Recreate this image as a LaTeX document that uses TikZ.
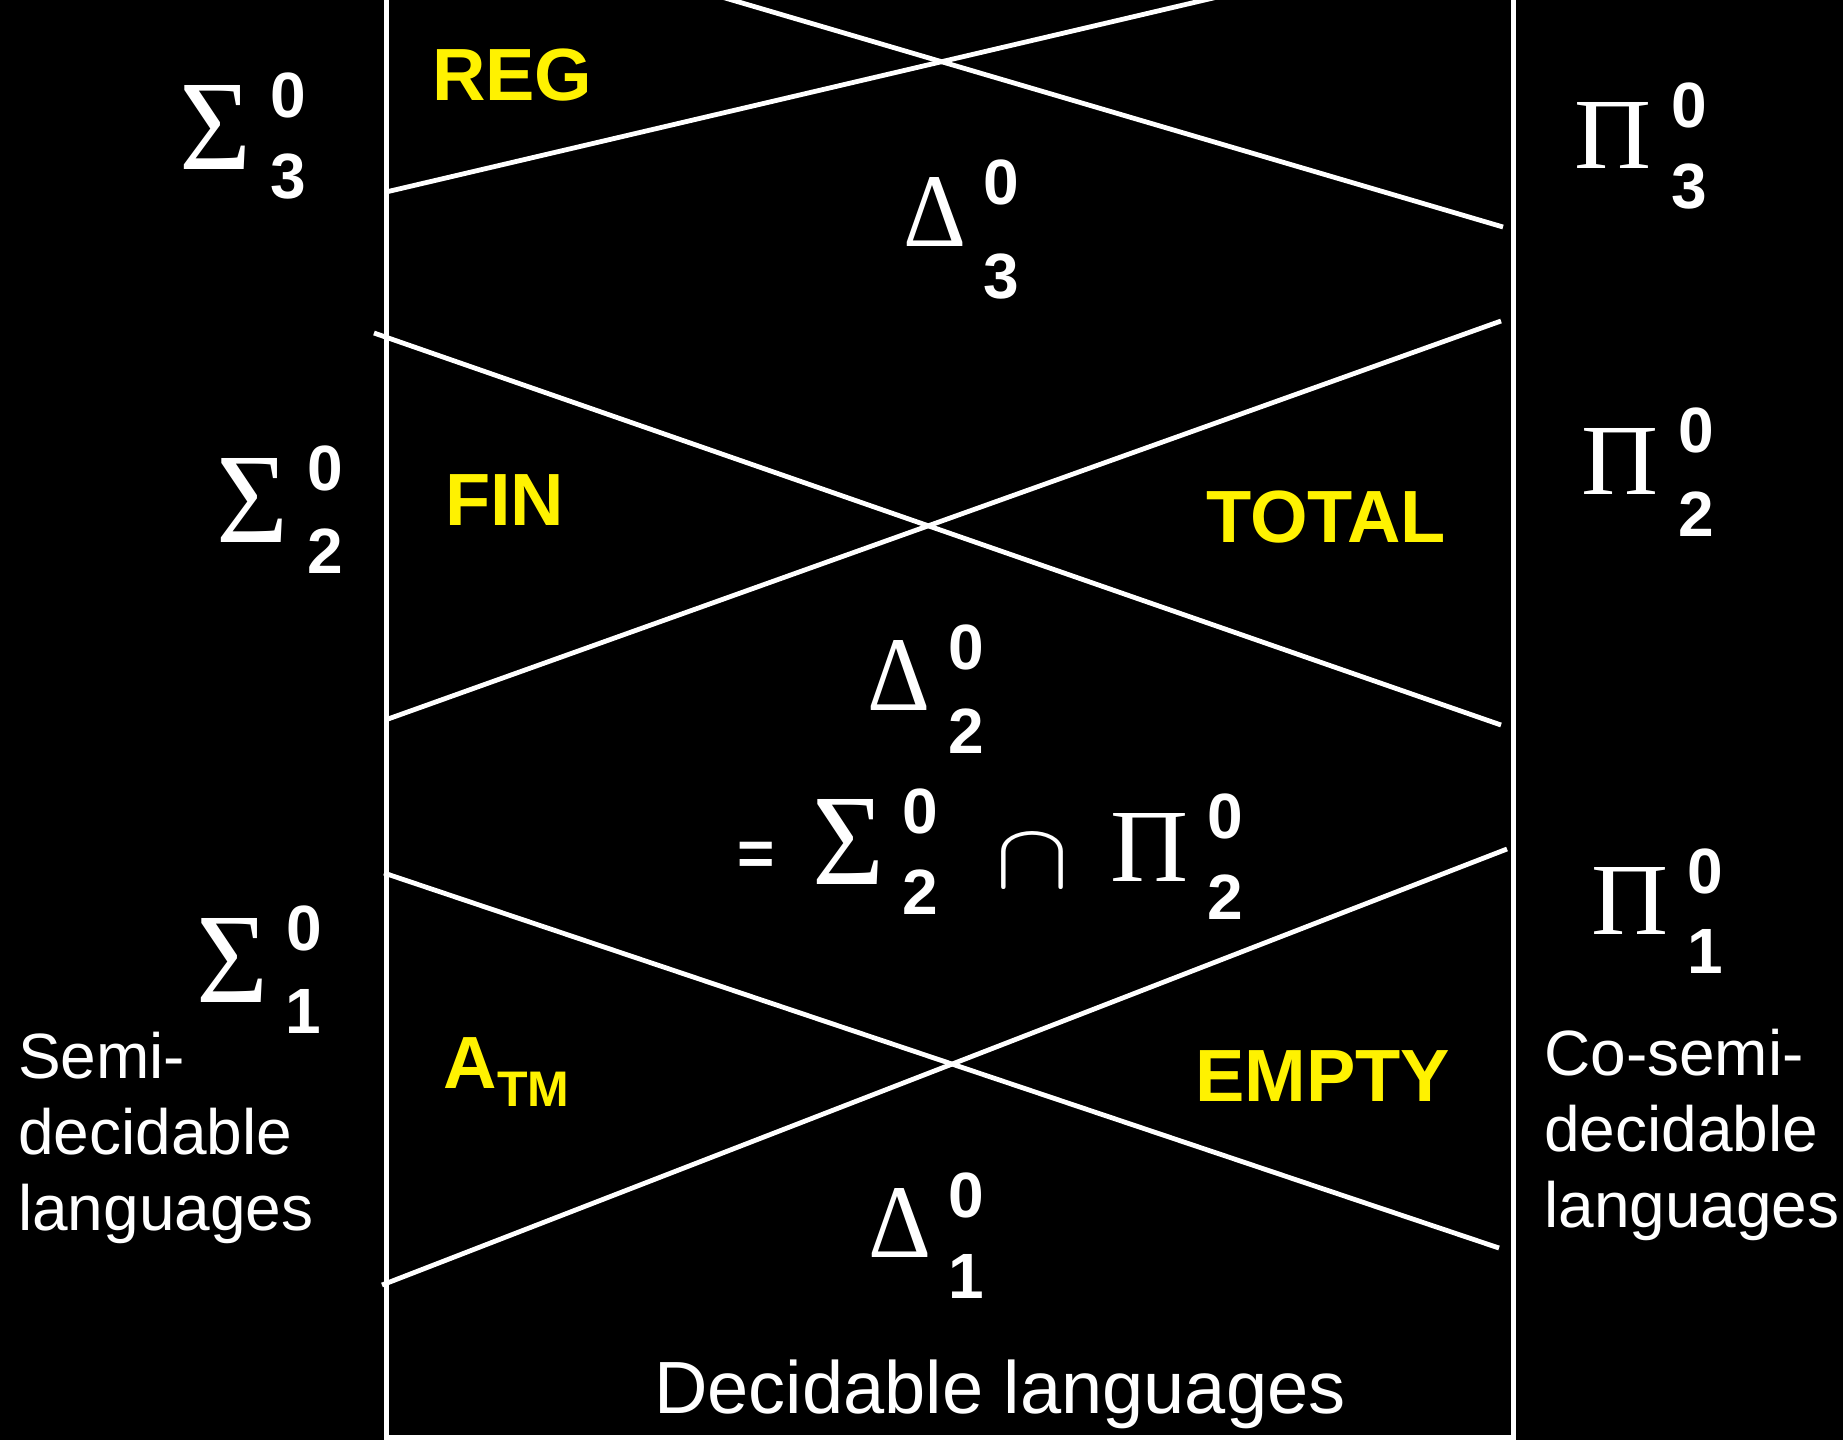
\documentclass[tikz,border=0pt]{standalone}
\usepackage{graphicx}
\usepackage{fontspec}
\setmainfont{Liberation Sans}
\newfontfamily\greekfont{Liberation Serif}
% a Greek class letter stretched to a given ink box (width, height in pt)
\newcommand\bigglyph[3]{\resizebox{#1pt}{#2pt}{\greekfont #3}}
\tikzset{
  frame/.style={white, line width=5pt},
  divider/.style={white, line width=4.8pt},
  sym/.style={inner sep=0pt, text=white},
  idx/.style={inner sep=0pt, text=white, font=\fontsize{64pt}{64pt}\selectfont\bfseries},
  problem/.style={inner sep=0pt, text=yellow, anchor=base west, font=\fontsize{74pt}{74pt}\selectfont\bfseries},
  caption/.style={inner sep=0pt, text=white, align=left, anchor=base west, font=\fontsize{64pt}{76pt}\selectfont},
}
\begin{document}
\begin{tikzpicture}[x=1pt,y=-1pt]
  \fill[black] (0,0) rectangle (1843,1440);
  \useasboundingbox (0,0) rectangle (1843,1440);
  \clip (0,0) rectangle (1843,1440);

  % outer frame of the decidable-languages column
  \coordinate (lt) at (386,-5);
  \coordinate (lb) at (386,1437);
  \coordinate (rb) at (1513,1437);
  \coordinate (rt) at (1513,-5);
  \draw[frame] (lt) -- (lb) -- (rb) -- (rt);

  % level 3 crossing
  \coordinate (a1) at (386,192);  \coordinate (a2) at (1226,-5);
  \coordinate (b1) at (715,-5);   \coordinate (b2) at (1503,227);
  \draw[divider] (a1) -- (a2);
  \draw[divider] (b1) -- (b2);

  % level 2 crossing
  \coordinate (c1) at (374,333);  \coordinate (c2) at (1501,725);
  \coordinate (d1) at (388,719);  \coordinate (d2) at (1501,321);
  \draw[divider] (c1) -- (c2);
  \draw[divider] (d1) -- (d2);

  % level 1 crossing
  \coordinate (e1) at (384,873);  \coordinate (e2) at (1499,1248);
  \coordinate (f1) at (382,1285); \coordinate (f2) at (1507,849);
  \draw[divider] (e1) -- (e2);
  \draw[divider] (f1) -- (f2);

  % Sigma classes
  \node[sym] (sig3) at (215.5,127) {\bigglyph{72}{84}{Σ}};
  \node[idx] (sig3u) at (288,95) {0};
  \node[idx] (sig3l) at (288,177) {3};
  \node[sym] (sig2) at (252,500) {\bigglyph{72}{84}{Σ}};
  \node[idx] (sig2u) at (325,468) {0};
  \node[idx] (sig2l) at (325,551) {2};
  \node[sym] (sig1) at (232,960) {\bigglyph{72}{84}{Σ}};
  \node[idx] (sig1u) at (304,928) {0};
  \node[idx] (sig1l) at (303,1011) {1};

  % Pi classes
  \node[sym] (pi3) at (1613,135.5) {\bigglyph{77}{66}{Π}};
  \node[idx] (pi3u) at (1689,105) {0};
  \node[idx] (pi3l) at (1689,187) {3};
  \node[sym] (pi2) at (1620,461.5) {\bigglyph{77}{66}{Π}};
  \node[idx] (pi2u) at (1696,430) {0};
  \node[idx] (pi2l) at (1696,514) {2};
  \node[sym] (pi1) at (1629.5,901) {\bigglyph{77}{67}{Π}};
  \node[idx] (pi1u) at (1705,871) {0};
  \node[idx] (pi1l) at (1705,951) {1};

  % Delta classes
  \node[sym] (del3) at (934.5,211.5) {\bigglyph{63}{69}{Δ}};
  \node[idx] (del3u) at (1001,182) {0};
  \node[idx] (del3l) at (1001,277) {3};
  \node[sym] (del2) at (899,675) {\bigglyph{63}{70}{Δ}};
  \node[idx] (del2u) at (966,647) {0};
  \node[idx] (del2l) at (966,731) {2};
  \node[sym] (del1) at (899.5,1222.5) {\bigglyph{63}{69}{Δ}};
  \node[idx] (del1u) at (966,1195) {0};
  \node[idx] (del1l) at (966,1276) {1};

  % Delta_2 = Sigma_2 cap Pi_2
  \node[idx] (eq) at (756,859) {=};
  \node[sym] (msig) at (848,842) {\bigglyph{72}{85}{Σ}};
  \node[idx] (msigu) at (920,811) {0};
  \node[idx] (msigl) at (920,892) {2};
  \node[sym] (mcap) at (1032.5,861.5) {\resizebox{74pt}{52pt}{$\cap$}};
  \node[sym] (mpi) at (1149.5,847) {\bigglyph{78}{68}{Π}};
  \node[idx] (mpiu) at (1225,816) {0};
  \node[idx] (mpil) at (1225,897) {2};

  % example languages
  \node[problem] (reg) at (432,100) {REG};
  \node[problem] (fin) at (445,525) {FIN};
  \node[problem] (total) at (1206,542) {TOTAL};
  \node[problem] (empty) at (1195,1101) {EMPTY};
  \node[problem] (atm) at (443,1088) {A};
  \node[problem, font=\fontsize{50pt}{50pt}\selectfont\bfseries] (atmsub) at (497,1106) {TM};

  % captions (anchored at the baseline of their last line)
  \node[caption] (semi) at (18,1230) {Semi-\\decidable\\languages};
  \node[caption] (cosemi) at (1544,1227) {Co-semi-\\decidable\\languages};
  \node[inner sep=0pt, text=white, anchor=base, font=\fontsize{74pt}{74pt}\selectfont] (dec) at (1000,1413) {Decidable languages};
\end{tikzpicture}
\end{document}
